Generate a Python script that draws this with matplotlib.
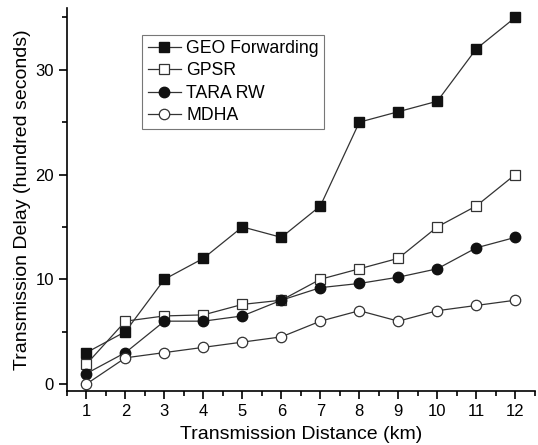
import matplotlib.pyplot as plt
from matplotlib.ticker import MultipleLocator

plt.rcParams['font.family'] = ['Liberation Sans', 'DejaVu Sans']

distance = [1, 2, 3, 4, 5, 6, 7, 8, 9, 10, 11, 12]
geo = [3, 5, 10, 12, 15, 14, 17, 25, 26, 27, 32, 35]
gpsr = [1.9, 6, 6.5, 6.6, 7.6, 8, 10, 11, 12, 15, 17, 20]
tara = [1, 3, 6, 6, 6.5, 8, 9.2, 9.6, 10.2, 11, 13, 14]
mdha = [0, 2.5, 3, 3.5, 4, 4.5, 6, 7, 6, 7, 7.5, 8]

fig = plt.figure(figsize=(5.38, 4.45), dpi=100)
ax = fig.add_axes([0.1245, 0.1213, 0.8695, 0.8607])

lc = '#333333'
ax.plot(distance, geo, '-s', color=lc, lw=0.9, ms=6.5, mfc='#111111', mec='#111111', label='GEO Forwarding')
ax.plot(distance, gpsr, '-s', color=lc, lw=0.9, ms=6.5, mfc='white', mec='#333333', mew=0.9, label='GPSR')
ax.plot(distance, tara, '-o', color=lc, lw=0.9, ms=7.5, mfc='#111111', mec='#111111', label='TARA RW')
ax.plot(distance, mdha, '-o', color=lc, lw=0.9, ms=7.5, mfc='white', mec='#333333', mew=0.9, label='MDHA')

ax.set_xlim(0.5, 12.5)
ax.set_ylim(-0.67, 35.9)
ax.xaxis.set_major_locator(MultipleLocator(1))
ax.xaxis.set_minor_locator(MultipleLocator(0.5))
ax.yaxis.set_major_locator(MultipleLocator(10))
ax.yaxis.set_minor_locator(MultipleLocator(5))
ax.tick_params(which='major', direction='out', length=6, width=1.2, labelsize=12)
ax.tick_params(which='minor', direction='out', length=3.5, width=1.2)
for s in ['top', 'right']:
    ax.spines[s].set_visible(False)
for s in ['left', 'bottom']:
    ax.spines[s].set_linewidth(1.2)

ax.set_xlabel('Transmission Distance (km)', fontsize=14, labelpad=5)
ax.set_ylabel('Transmission Delay (hundred seconds)', fontsize=14, labelpad=3)

leg = ax.legend(loc='upper left', bbox_to_anchor=(0.161, 0.93), fontsize=12.7, frameon=True,
                fancybox=False, edgecolor='#555555', handlelength=1.9, handletextpad=0.3,
                borderpad=0.3, labelspacing=0.3, borderaxespad=0)
leg.get_frame().set_linewidth(0.8)

fig.savefig('out.png', dpi=100)
